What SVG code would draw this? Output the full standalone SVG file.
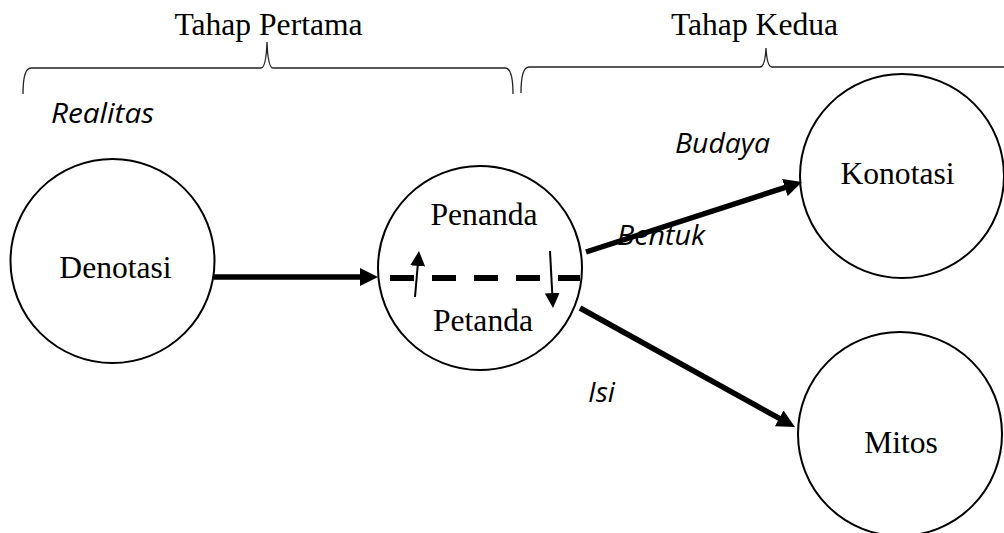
<svg xmlns="http://www.w3.org/2000/svg" width="1004" height="533" viewBox="0 0 1004 533">
<style>
.node{fill:#fff;stroke:#000;stroke-width:2}
.t{font-family:"Liberation Serif","Times New Roman",serif;font-size:31.6px;fill:#000;text-anchor:middle}
.lbl{font-family:"Open Sans","Liberation Sans",sans-serif;font-style:italic;font-size:27px;fill:#000}
.brace{fill:none;stroke:#222;stroke-width:1.3}
.thick{stroke:#000;stroke-width:5.5;fill:none}
.thin{stroke:#000;stroke-width:2;fill:none}
</style>
<defs>
<marker id="big" viewBox="0 0 18 18" markerWidth="18" markerHeight="18" markerUnits="userSpaceOnUse" refX="8" refY="9" orient="auto"><path d="M0,0 L18,9 L0,18 z" fill="#000"/></marker>
<marker id="small" viewBox="0 0 15 15" markerWidth="15" markerHeight="15" markerUnits="userSpaceOnUse" refX="7" refY="7.5" orient="auto"><path d="M0,0 L15,7.5 L0,15 z" fill="#000"/></marker>
</defs>
<rect width="1004" height="533" fill="#fff"/>
<g id="stages">
<text class="t" x="268.5" y="35">Tahap Pertama</text>
<path class="brace" d="M23,94 Q23,68 31,68 L261,68 Q266,68 267,42 Q268,68 273,68 L505,68 Q513,68 513,94"/>
<text class="t" x="754.5" y="35">Tahap Kedua</text>
<path class="brace" d="M521,93 Q521,67 529,67 L760,67 Q765,67 766,48 Q767,67 772,67 L1010,67"/>
</g>
<g id="node-denotasi">
<circle class="node" cx="112.5" cy="261" r="102"/>
<text class="t" x="115.5" y="278">Denotasi</text>
</g>
<g id="node-tanda">
<circle class="node" cx="480" cy="268" r="102"/>
<text class="t" x="484" y="225">Penanda</text>
<text class="t" x="483" y="331">Petanda</text>
<line x1="390" y1="278" x2="580" y2="278" stroke="#000" stroke-width="6" stroke-dasharray="24 18"/>
<line class="thin" x1="415" y1="297" x2="418.3" y2="259" marker-end="url(#small)"/>
<line class="thin" x1="550" y1="251" x2="552.6" y2="300" marker-end="url(#small)"/>
</g>
<g id="node-konotasi">
<circle class="node" cx="902" cy="176" r="102"/>
<text class="t" x="897.5" y="184">Konotasi</text>
</g>
<g id="node-mitos">
<circle class="node" cx="900" cy="434" r="102"/>
<text class="t" x="901" y="453">Mitos</text>
</g>
<g id="labels">
<text class="lbl" x="51" y="123" textLength="103" lengthAdjust="spacingAndGlyphs">Realitas</text>
<text class="lbl" x="675" y="153" textLength="95" lengthAdjust="spacingAndGlyphs">Budaya</text>
<text class="lbl" x="617" y="245" textLength="88" lengthAdjust="spacingAndGlyphs">Bentuk</text>
<text class="lbl" x="588" y="402" textLength="27" lengthAdjust="spacingAndGlyphs">Isi</text>
</g>
<g id="connectors">
<line class="thick" x1="214" y1="277" x2="368" y2="277" marker-end="url(#big)"/>
<line class="thick" x1="586" y1="252" x2="792.5" y2="185.1" marker-end="url(#big)"/>
<line class="thick" x1="580" y1="308" x2="786.2" y2="422.2" marker-end="url(#big)"/>
</g>
</svg>
